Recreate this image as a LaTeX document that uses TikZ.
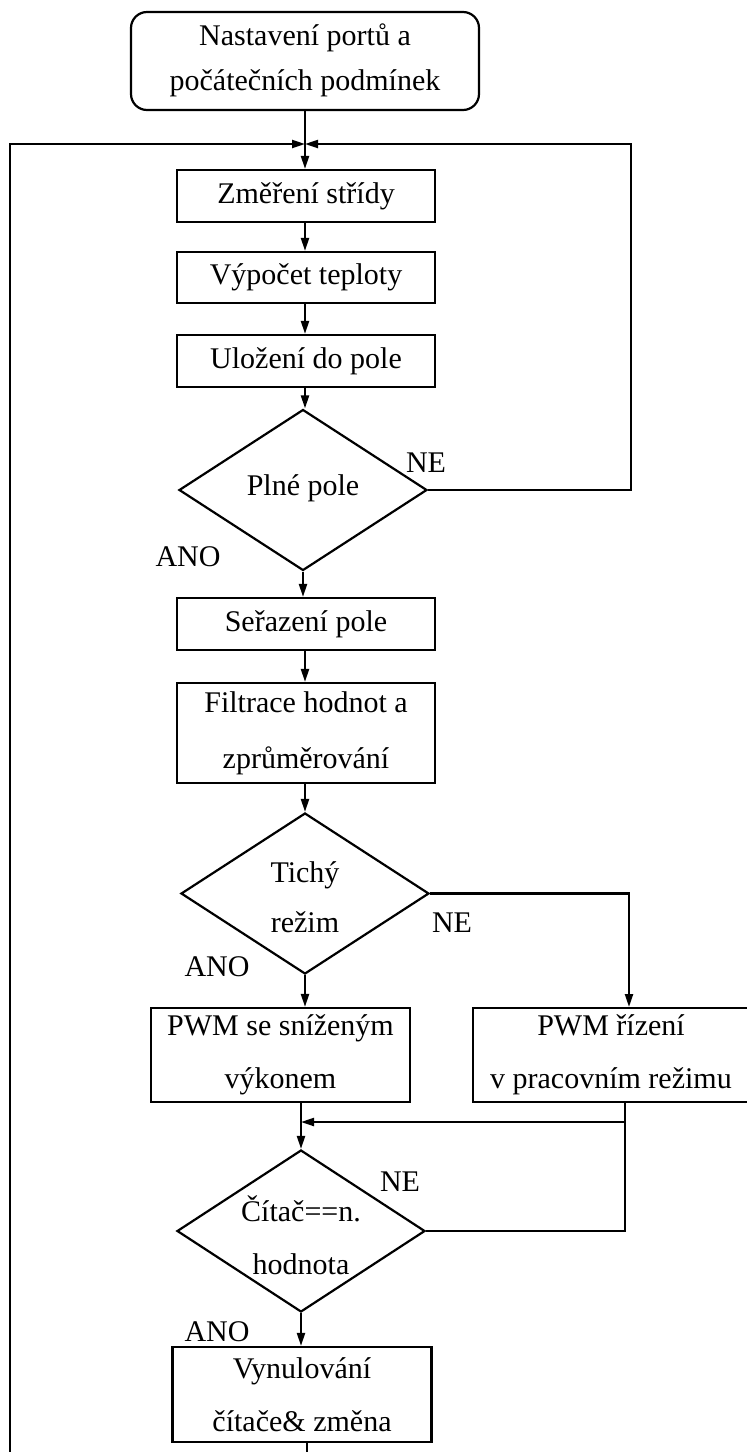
\documentclass[tikz,border=0pt]{standalone}
\usepackage{fontspec}
\setmainfont{Liberation Serif}
\usetikzlibrary{shapes.geometric,arrows.meta}
\begin{document}
\begin{tikzpicture}[x=1pt,y=-1pt,
  every node/.append style={font=\fontsize{30}{52}\selectfont},
  proc/.style={draw, line width=2.2pt, rectangle, inner sep=0pt, align=center,
    minimum width=258pt},
  startbox/.style={draw, line width=2.2pt, rectangle, rounded corners=16pt,
    inner sep=0pt, align=center, minimum width=348pt, minimum height=98pt},
  decision/.style={draw, line width=2.2pt, diamond, inner sep=0pt,
    minimum width=248pt, minimum height=161pt},
  flow/.style={line width=2.2pt, -{Triangle[length=13pt,width=8pt]}},
  wire/.style={line width=2.2pt},
  lbl/.style={inner sep=0pt, align=center}
]
\fill[white] (0,0) rectangle (747,1452);
\useasboundingbox (0,0) rectangle (747,1452);

% process steps
\node[startbox] (start) at (305,61) {};
\node[lbl, font=\fontsize{30}{45}\selectfont] (tstart) at (305,60) {Nastavení portů a\\počátečních podmínek};
\node[proc, minimum height=52pt] (b1) at (306,196) {Změření střídy};
\node[proc, minimum height=51pt] (b2) at (306,277.5) {Výpočet teploty};
\node[proc, minimum height=52pt] (b3) at (306,361) {Uložení do pole};
\node[decision] (d1) at (303,490) {};
\node[lbl] (td1) at (303,488) {Plné pole};
\node[proc, minimum height=52pt] (b4) at (306,624) {Seřazení pole};
\node[proc, minimum height=100pt, font=\fontsize{30}{56}\selectfont] (b5) at (306,733) {Filtrace hodnot a\\zprůměrování};
\node[decision] (d2) at (305,893.5) {};
\node[lbl, font=\fontsize{30}{50}\selectfont] (td2) at (305,897) {Tichý\\režim};
\node[proc, minimum width=259pt, minimum height=94pt, font=\fontsize{30}{53}\selectfont] (b6) at (280.5,1055) {PWM se sníženým\\výkonem};
\node[proc, minimum width=276pt, minimum height=94pt, font=\fontsize{30}{53}\selectfont] (b7) at (611,1055) {PWM řízení\\v pracovním režimu};
\node[decision, minimum height=162pt] (d3) at (301,1231) {};
\node[lbl, font=\fontsize{30}{53}\selectfont] (td3) at (301,1235) {Čítač==n.\\hodnota};
\node[proc, minimum width=259pt, minimum height=95pt, font=\fontsize{30}{53}\selectfont] (b8) at (302,1394.5) {Vynulování\\čítače\& změna};

% branch labels
\node[lbl] (ne1) at (426,463) {NE};
\node[lbl] (ano1) at (188,557) {ANO};
\node[lbl] (ne2) at (452,923) {NE};
\node[lbl] (ano2) at (217,967) {ANO};
\node[lbl] (ne3) at (400,1182) {NE};
\node[lbl] (ano3) at (217,1332) {ANO};

% junction points of the loops
\coordinate (join) at (305,144);
\coordinate (loopL) at (10,144);
\coordinate (loopR) at (631,144);
\coordinate (botL) at (10,1475);
\coordinate (rin) at (629,1007);
\coordinate (rout) at (625,1102);
\coordinate (merge) at (625,1122);
\coordinate (mtip) at (301,1122);

% main flow
\draw[flow] (start.south) -- (start.south |- b1.north);
\draw[flow] (b1.south -| join) -- (b2.north -| join);
\draw[flow] (b2.south -| join) -- (b3.north -| join);
\draw[flow] (b3.south -| join) -- (d1.north -| join);
\draw[flow] (d1.south) -- (d1.south |- b4.north);
\draw[flow] (b4.south -| join) -- (b5.north -| join);
\draw[flow] (b5.south -| join) -- (d2.north);
\draw[flow] (d2.south) -- (d2.south |- b6.north);
\draw[flow] (d2.east) -| (rin);
\draw[flow] (d3.north |- b6.south) -- (d3.north);
\draw[flow] (d3.south) -- (d3.south |- b8.north);

% return paths
\draw[wire] (rout) -- (rout |- d3.east) -- (d3.east);
\draw[flow] (merge) -- (mtip);
\draw[flow] (d1.east) -| (loopR) -- (join);
\draw[flow] (b8.south -| 307,0) -- (307,1475) -- (botL) -- (loopL) -- (join);
\end{tikzpicture}
\end{document}
